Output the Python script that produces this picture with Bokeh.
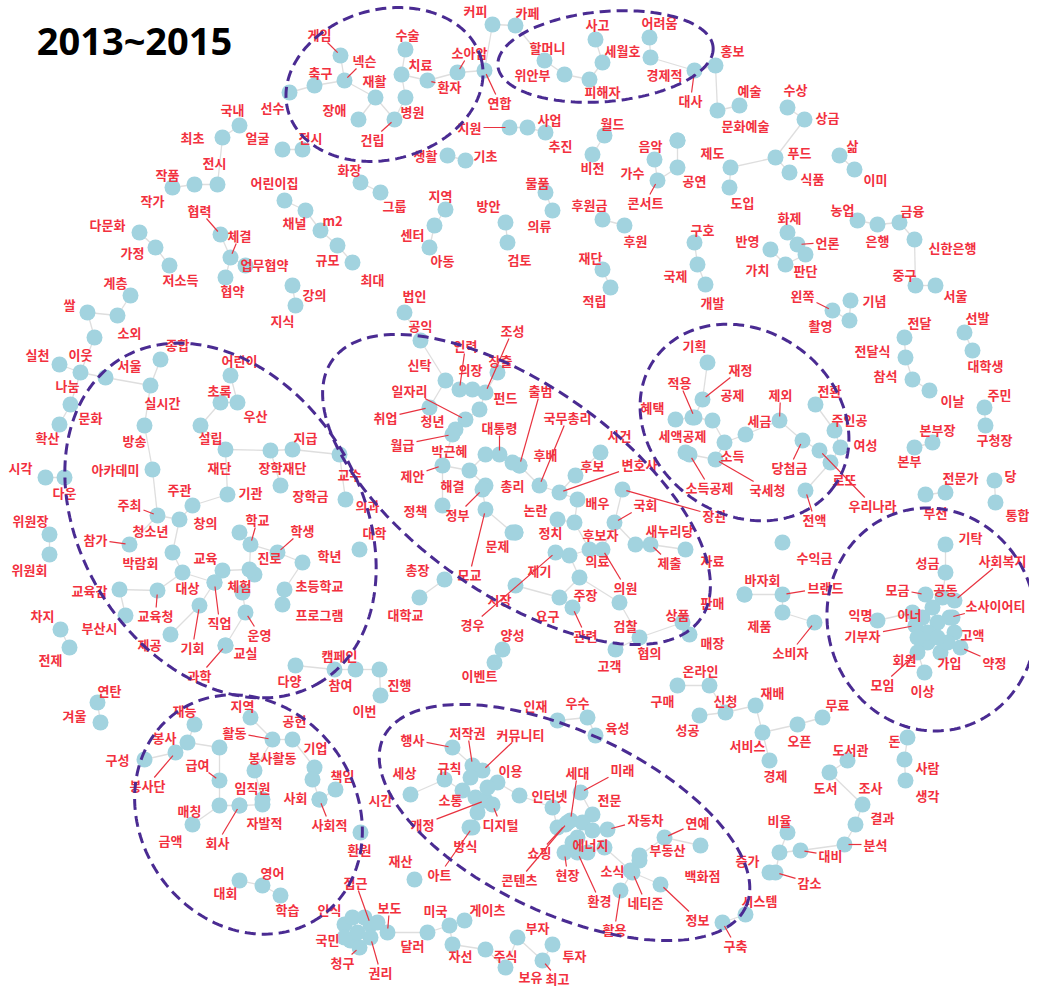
import numpy as np
from bokeh.plotting import figure
from bokeh.models import Range1d, ColumnDataSource
from bokeh.core.properties import value
from bokeh.embed import file_html
from bokeh.resources import INLINE

title_text = "2013~2015"

# ---- cluster A : health / top
wA = ["게임","넥슨","축구","수술","치료","재활","병원","건립","장애","환자","소아암","연합","선수","얼굴","전시","화장","그룹","생활","기초","지원","사업","추진"]
nxA = [348,352,322,413,409,383,413,402,366,435,465,492,297,290,310,368,388,455,473,517,535,553]
nyA = [63,88,93,57,82,105,105,127,127,88,80,78,100,157,157,190,200,163,168,135,135,140]
lxA = [327,372,328,415,428,382,420,380,342,457,477,507,280,265,318,357,402,433,493,477,557,568]
lyA = [42,68,80,42,72,88,119,147,117,94,60,110,115,145,145,177,213,163,163,135,127,153]

# ---- cluster B : top-left
wB = ["국내","최초","전시","작품","작가","협력","체결","업무협약","협약","다문화","가정","저소득","계층","쌀","소외","실천","이웃","나눔","문화","확산","어린이집","채널","m2","규모","최대","강의","지식","지역","센터","아동","방안","검토","물품","의류","법인","공익"]
nxB = [247,230,225,202,180,228,238,253,233,147,163,177,138,95,125,67,102,88,78,67,292,313,328,345,360,300,303,453,442,437,513,515,553,560,412,428]
nyB = [133,145,192,192,195,242,265,273,285,240,255,273,303,320,323,372,345,380,412,432,208,218,238,253,270,293,313,217,233,255,230,250,200,218,320,348]
lxB = [240,200,222,175,160,207,247,272,240,115,140,188,123,77,137,45,88,75,98,55,282,302,340,335,380,322,290,448,420,450,496,527,545,547,422,428]
lyB = [117,145,170,182,208,218,243,272,298,232,260,287,290,312,340,362,362,393,425,445,190,230,228,267,287,302,328,203,242,268,213,267,190,233,303,333]

# ---- cluster C : top-right
wC = ["커피","카페","사고","어려움","할머니","세월호","경제적","위안부","피해자","홍보","대사","예술","문화예술","월드","비전","음악","가수","콘서트","공연","제도","도입","후원금","후원","재단","적립","구호","국제","개발","수상","상금","푸드","식품","삶","이미","농업","은행","금융","신한은행","화제","언론","판단","가치","반영","중구","서울","왼쪽","기념","촬영","전달","선발","전달식","대학생","참석","이날","주민","구청장","본부장","본부","전문가","부천","당","통합"]
nxC = [500,523,603,657,552,610,658,572,597,723,702,747,725,612,600,685,662,665,685,738,737,610,632,610,618,702,705,713,795,812,783,797,847,862,865,885,907,922,795,805,813,793,778,923,943,840,858,857,912,972,913,980,920,937,992,993,940,922,953,933,1002,1003]
nyC = [32,33,47,45,68,70,65,82,87,73,78,113,118,143,162,148,167,188,175,175,195,227,233,277,295,250,272,292,115,127,165,180,163,177,228,232,230,247,240,252,262,272,257,293,293,318,308,328,345,340,365,358,387,398,415,433,450,455,500,502,488,510]
lxC = [483,535,605,667,555,630,672,540,610,740,698,757,753,620,600,658,640,653,702,720,750,597,643,598,602,710,683,720,803,835,807,820,860,883,850,885,920,960,797,835,813,765,755,912,963,810,882,828,927,985,880,993,893,960,1007,1002,945,917,968,943,1018,1025]
lyC = [18,20,32,30,55,58,82,82,99,58,108,98,133,131,175,153,180,210,188,160,210,212,248,265,308,237,283,310,97,125,160,186,153,187,217,248,218,255,225,250,278,277,248,282,303,303,308,333,330,325,358,373,383,408,402,447,437,468,485,520,483,522]

# ---- cluster D : tax / right-middle
wD = ["기획","재정","적용","공제","혜택","세액공제","세금","소득","소득공제","국세청","제외","전환","주인공","여성","당첨금","로또","우리나라","전액","수익금","바자회","브랜드","제품","소비자","상품","매장","판매","협의","고객","이벤트","양성"]
nxD = [715,710,702,720,683,693,753,732,697,723,787,823,842,848,810,838,827,813,790,752,790,790,822,690,697,752,647,623,502,510]
nyD = [370,407,425,428,427,460,442,450,462,467,428,412,438,455,448,470,458,498,550,602,602,620,630,630,642,602,645,657,670,657]
lxD = [702,748,687,740,660,690,767,740,717,775,788,837,857,873,797,852,880,822,822,770,833,767,798,685,720,720,657,617,487,520]
lyD = [353,377,390,402,415,443,428,463,495,497,402,398,427,452,475,487,513,527,565,587,595,633,660,622,650,610,660,673,683,642]

# ---- cluster E : politics
wE = ["신탁","인력","의장","조성","창출","펀드","일자리","취업","청년","월급","대통령","박근혜","제안","해결","총리","정책","정부","모교","문제","총장","대학교","후배","출범","국무총리","변호사","후보","사건","배우","논란","정치","국회","장관","새누리당","제출","자료","의료","후보자","의원","주장","요구","검찰","관련","경우","제기","시장"]
nxE = [453,467,480,493,505,487,473,437,463,460,507,493,450,477,493,450,490,493,520,452,427,527,527,547,567,583,608,585,565,582,622,630,643,658,693,577,597,610,587,567,627,580,563,523,523]
nyE = [388,397,397,400,380,417,427,415,437,442,462,462,473,478,493,513,497,517,540,587,605,473,473,493,500,483,460,507,527,530,530,497,552,552,557,563,557,557,585,605,610,615,560,593,540]
lxE = [427,473,478,520,508,513,417,393,440,410,507,457,420,460,520,423,465,477,505,425,413,553,548,575,647,600,627,605,543,558,653,722,677,677,720,605,608,633,593,555,633,593,480,547,507]
lyE = [372,353,377,338,368,405,398,425,428,452,435,458,483,493,493,518,522,582,553,577,622,462,398,425,472,473,443,510,517,540,512,523,538,570,568,568,542,595,602,623,633,643,632,578,607]

# ---- cluster F : education
wF = ["서울","종합","어린이","실시간","초록","우산","방송","설립","재단","아카데미","주관","주최","기관","지급","장학재단","장학금","청소년","창의","학교","참가","학생","진로","학년","박람회","교육","대상","체험","초등학교","프로그램","교육감","교육청","직업","기회","운영","교실","제공","과학","다양","교수","의과","대학","차지","부산시","전제","위원장","위원회","시각","다운"]
nxF = [113,168,238,158,228,245,152,208,233,160,200,165,235,300,278,288,187,247,258,137,285,262,310,180,230,190,257,292,290,127,165,222,207,253,233,178,233,303,347,353,367,68,133,77,57,57,53,72]
nyF = [385,367,383,393,410,410,433,433,457,477,513,523,502,457,458,493,527,540,552,552,560,582,570,560,578,580,577,597,612,597,598,590,613,620,653,642,653,673,462,507,557,637,623,655,542,562,485,485]
lxF = [137,185,247,170,227,263,142,218,227,123,187,137,258,313,290,318,158,213,265,103,310,277,337,148,213,195,247,327,327,97,163,227,200,267,253,157,207,297,357,375,382,50,107,58,38,37,28,72]
lyF = [373,352,368,410,398,423,448,445,475,477,497,512,500,445,475,503,538,530,527,547,538,565,563,570,565,595,593,593,622,598,623,630,655,642,660,652,683,688,482,513,540,623,635,667,528,577,475,500]

# ---- cluster G : volunteering / bottom
wG = ["연탄","겨울","재능","지역","공헌","활동","봉사","기업","봉사활동","구성","급여","봉사단","책임","임직원","사회","매칭","자발적","사회적","금액","회사","대회","영어","학습","참여","캠페인","진행","이번","시간","환원","재산","접근","인식","보도","국민","청구","권리","달러","미국","게이츠","자선","주식","보유","부자","투자","최고"]
nxG = [105,108,202,258,300,280,195,322,262,152,227,183,343,270,327,227,270,327,200,247,247,270,288,342,363,387,388,418,368,422,378,352,395,358,367,378,435,457,472,460,493,513,525,560,550]
nyG = [710,730,732,725,747,747,750,775,778,767,788,760,797,807,807,813,812,807,832,813,888,893,903,677,677,677,703,802,840,887,932,932,940,948,955,945,940,933,928,952,957,975,945,952,968]
lxG = [117,82,192,250,302,242,172,323,280,125,205,155,350,260,303,197,272,337,178,225,233,280,295,348,347,407,372,388,367,408,363,337,397,335,350,388,420,443,495,468,513,538,545,582,565]
lyG = [698,723,718,713,728,740,745,755,765,767,772,793,783,795,805,818,830,832,848,850,900,880,917,692,663,692,718,807,857,868,890,917,915,947,970,980,953,918,917,963,963,984,935,963,986]

# ---- cluster H : internet
wH = ["행사","저작권","커뮤니티","세상","규칙","이용","소통","개정","디지털","방식","아트","인터넷","세대","미래","전문","자동차","연예","부동산","백화점","에너지","쇼핑","현장","콘텐츠","소식","환경","네티즌","정보","활용","시스템","구축","증가","감소","인재","우수","육성"]
nxH = [460,480,490,452,478,505,483,493,500,477,480,527,578,588,600,615,672,647,708,585,573,572,575,638,585,640,668,628,753,730,777,783,565,595,603]
nyH = [755,773,778,787,785,790,805,808,812,835,835,803,828,800,822,837,845,863,853,845,832,860,830,878,860,880,892,898,922,930,880,880,728,725,743]
lxH = [420,475,528,412,457,518,458,430,508,473,447,557,585,630,617,653,705,675,710,598,547,575,527,620,607,653,705,622,767,743,755,817,543,585,625]
lyH = [747,740,742,780,775,778,807,832,832,853,882,803,780,777,807,827,830,857,883,852,860,882,887,878,908,910,927,937,908,953,868,890,713,710,735]

# ---- cluster I : right-bottom
wI = ["온라인","구매","성공","신청","재배","서비스","경제","무료","오픈","도서관","도서","조사","결과","분석","대비","비율","돈","사람","생각"]
nxI = [717,685,707,733,763,770,777,830,805,855,837,870,863,852,808,795,915,912,913]
nyI = [693,693,723,720,713,740,768,725,732,768,780,812,832,852,858,840,745,767,788]
lxI = [708,670,695,733,780,755,783,845,807,858,833,878,890,883,838,787,902,935,935]
lyI = [678,708,737,708,700,753,783,712,748,757,795,795,825,852,863,828,748,775,803]

# ---- cluster J : donation
wJ = ["기탁","성금","사회복지","모금","공동","소사이어티","익명","아너","기부자","고액","회원","가입","약정","모임","이상"]
nxJ = [953,953,962,933,950,957,885,930,923,962,935,948,968,925,932]
nyJ = [552,580,608,602,605,625,628,625,633,640,650,660,655,660,680]
lxJ = [978,935,1010,905,953,1003,868,917,870,980,912,957,1002,890,930]
lyJ = [545,570,568,597,597,613,622,622,643,642,667,670,670,692,698]

# unlabeled nodes
extra_x = [520,523,222,250,227,320,247,360,372,385,365,352,470,495,485,560,565,590,600,580,595,612,647,940,945,935,955,925,945,920,960,787,700,685]
extra_y = [470,540,590,600,755,787,813,925,925,930,940,945,798,795,820,815,835,830,838,850,860,855,868,615,630,640,650,645,645,620,625,860,425,148]

leaders = ["게임","넥슨","건립","환자","소아암","연합","지원","협력","체결","대사","콘서트","언론","왼쪽","재정","적용","소득공제","국세청","제외","당첨금","우리나라","전액","브랜드","소비자","인력","조성","일자리","취업","월급","대통령","제안","정부","모교","출범","국무총리","변호사","국회","장관","제출","의원","관련","경우","주최","학교","참가","학생","교육청","직업","기회","운영","과학","활동","급여","봉사단","사회적","회사","접근","보도","청구","권리","최고","행사","저작권","커뮤니티","개정","디지털","아트","세대","미래","자동차","연예","쇼핑","현장","콘텐츠","환경","네티즌","정보","활용","구축","감소","분석","대비","사회복지","모금","소사이어티","기부자","약정","모임"]

# dashed cluster outlines: centre, semi-axes, rotation (deg)
ell_cx = [392, 613, 228, 524, 752, 939, 256, 572]
ell_cy = [92, 64, 528, 497, 430, 627, 822, 830]
ell_a = [100, 108, 190, 225, 110, 112, 125, 200]
ell_b = [75, 45, 140, 105, 92, 104, 108, 91]
ell_t = [-15, -5, 58, 35, 35, 75, 55, 25]

# ------------------------------------------------------------------
words = wA + wB + wC + wD + wE + wF + wG + wH + wI + wJ
nx = np.array(nxA + nxB + nxC + nxD + nxE + nxF + nxG + nxH + nxI + nxJ, float)
ny = np.array(nyA + nyB + nyC + nyD + nyE + nyF + nyG + nyH + nyI + nyJ, float)
lx = np.array(lxA + lxB + lxC + lxD + lxE + lxF + lxG + lxH + lxI + lxJ, float)
ly = np.array(lyA + lyB + lyC + lyD + lyE + lyF + lyG + lyH + lyI + lyJ, float)

ax = np.concatenate([nx, np.array(extra_x, float)])
ay = np.concatenate([ny, np.array(extra_y, float)])

# minimum spanning tree edges (short ones only)
n = len(ax)
d = np.hypot(ax[:, None] - ax[None, :], ay[:, None] - ay[None, :])
in_tree = np.zeros(n, bool)
in_tree[0] = True
best = d[0].copy()
parent = np.zeros(n, int)
ex, ey = [], []
for _ in range(n - 1):
    cand = np.where(in_tree, np.inf, best)
    j = int(np.argmin(cand))
    in_tree[j] = True
    if cand[j] < 48:
        ex.append([ax[parent[j]], ax[j]])
        ey.append([ay[parent[j]], ay[j]])
    upd = d[j] < best
    parent[upd & ~in_tree] = j
    best = np.minimum(best, d[j])

p = figure(width=1029, height=988, output_backend="svg", toolbar_location=None,
           x_range=Range1d(8, 1037), y_range=Range1d(996, 8))
p.axis.visible = False
p.grid.visible = False
p.outline_line_color = None
p.min_border = 0
p.background_fill_color = "white"

p.multi_line(ex, ey, line_color="#d6d6d6", line_width=1.3, line_alpha=0.8)
p.scatter(ax, ay, size=16, fill_color="#a2d3df", line_color=None)

# leader lines
llx, lly = [], []
for i, w in enumerate(words):
    if w in leaders:
        dx, dy = nx[i] - lx[i], ny[i] - ly[i]
        hw, hh = 6.5 * len(w) + 1, 8.0
        t = min(hw / abs(dx) if dx else 1e9, hh / abs(dy) if dy else 1e9)
        dist = np.hypot(dx, dy)
        t2 = max(0.0, 1 - 4.0 / dist) if dist > 0 else 1
        llx.append([lx[i] + dx * t, lx[i] + dx * t2])
        lly.append([ly[i] + dy * t, ly[i] + dy * t2])
p.multi_line(llx, lly, line_color="#e8323f", line_width=1.2)

src = ColumnDataSource(dict(x=lx, y=ly, t=words))
p.text(x="x", y="y", text="t", source=src, text_font=value("Noto Sans CJK KR"),
       text_font_size="13px", text_font_style="bold", text_color="#f2303e",
       text_align="center", text_baseline="middle")

tt = np.linspace(0, 2 * np.pi, 200)
for cx, cy, a, b, th in zip(ell_cx, ell_cy, ell_a, ell_b, ell_t):
    r = np.deg2rad(th)
    xs = cx + a * np.cos(tt) * np.cos(r) - b * np.sin(tt) * np.sin(r)
    ys = cy + a * np.cos(tt) * np.sin(r) + b * np.sin(tt) * np.cos(r)
    p.line(xs, ys, line_color="#4a2b92", line_width=3, line_dash="11 6")

p.text(x=[142], y=[47], text=[title_text], text_font=value("Noto Sans"),
       text_font_size="38px", text_font_style="bold", text_color="black",
       text_align="center", text_baseline="middle")

open("out.html", "w").write(file_html(p, INLINE))
